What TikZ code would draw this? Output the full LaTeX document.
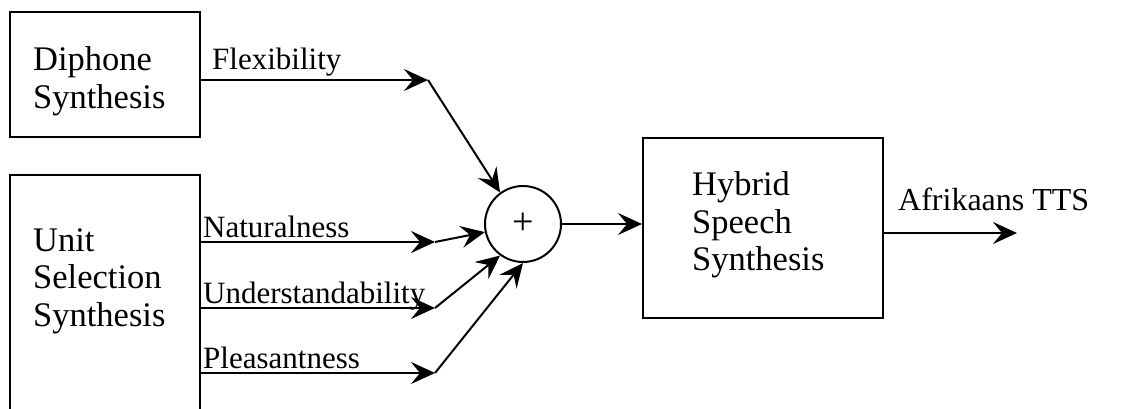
\documentclass[tikz,border=0pt]{standalone}
\usepackage{fontspec}
\setmainfont{Liberation Serif}
\usetikzlibrary{arrows.meta}
\begin{document}
\begin{tikzpicture}[x=1pt,y=-1pt,
  box/.style={draw, line width=2pt, inner sep=0pt},
  lbl/.style={font=\fontsize{31}{35}\selectfont, inner sep=0pt, anchor=base west},
  boxtext/.style={font=\fontsize{34.5}{37.5}\selectfont, align=left, inner sep=0pt, anchor=west},
  conn/.style={line width=2pt, -{Stealth[length=24pt,width=22pt,inset=9pt]}},
  sumnode/.style={draw, circle, line width=2pt, minimum size=76pt, inner sep=0pt,
    font=\fontsize{38}{40}\selectfont}
  ]
\useasboundingbox (0,0) rectangle (1127,409);
\clip (0,0) rectangle (1127,409);

% source blocks
\node[box, minimum width=190pt, minimum height=125pt] (diphone) at (105,74.5) {};
\node[boxtext] (diphonetext) at (33,81.5) {Diphone\\Synthesis};
\node[box, minimum width=190pt, minimum height=270pt] (unit) at (105,310) {};
\node[boxtext] (unittext) at (33,281) {Unit\\Selection\\Synthesis};

% summing junction and hybrid block
\node[sumnode] (sum) at (523,224) {+};
\node[box, minimum width=240pt, minimum height=180pt] (hybrid) at (763,228) {};
\node[boxtext] (hybridtext) at (692,225) {Hybrid\\Speech\\Synthesis};

% bend points of the feature lines
\coordinate (fx) at (428,80);
\coordinate (na) at (435,242);
\coordinate (un) at (435,308);
\coordinate (pl) at (435,373);
\coordinate (out) at (1017,233);

% feature lines
\draw[conn] (diphone.east |- fx) -- (fx);
\draw[conn] (fx) -- (sum.126);
\draw[conn] (unit.east |- na) -- (na);
\draw[conn] (na) -- (sum.192);
\draw[conn] (unit.east |- un) -- (un);
\draw[conn] (un) -- (sum.234);
\draw[conn] (unit.east |- pl) -- (pl);
\draw[conn] (pl) -- (sum.south);
\draw[conn] (sum.east) -- (sum.east -| hybrid.west);
\draw[conn] (hybrid.east |- out) -- (out);

% labels
\node[lbl] (flex) at (212,70) {Flexibility};
\node[lbl] (nat) at (203,237) {Naturalness};
\node[lbl] (und) at (203,303) {Understandability};
\node[lbl] (plea) at (203,368) {Pleasantness};
\node[lbl, font=\fontsize{32}{36}\selectfont] (tts) at (898,210) {Afrikaans TTS};
\end{tikzpicture}
\end{document}
